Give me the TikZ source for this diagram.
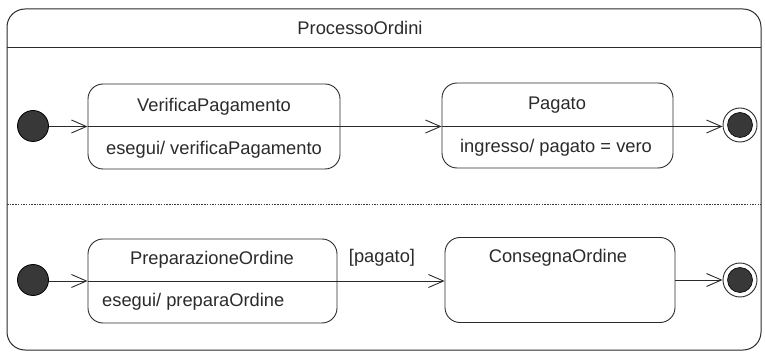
\documentclass[tikz,border=0pt]{standalone}
\usepackage{fontspec}
\setmainfont{Liberation Sans}
\usetikzlibrary{arrows.meta}
\definecolor{ink}{HTML}{2A2A2A}
\definecolor{dot}{HTML}{383838}
\begin{document}
\begin{tikzpicture}[x=1pt,y=-1pt,
  every node/.style={font=\fontsize{18.3}{22}\selectfont, text=ink},
  state/.style={draw=ink, line width=0.9pt, rounded corners=15pt, inner sep=0pt},
  txt/.style={inner sep=0pt},
  initial/.style={circle, draw=black, fill=dot, line width=0.8pt, minimum size=31pt, inner sep=0pt},
  finalout/.style={circle, draw=ink, fill=white, line width=0.9pt, minimum size=34pt, inner sep=0pt},
  finalin/.style={circle, draw=black, fill=dot, line width=0.6pt, minimum size=25pt, inner sep=0pt},
  sep/.style={draw=ink, line width=0.9pt},
  tr/.style={draw=ink, line width=0.9pt, -{Straight Barb[length=15pt,width=13pt,line width=0.9pt]}}
]
\useasboundingbox (0,0) rectangle (765,355);
% frame
\node[draw=ink, line width=1pt, rounded corners=18pt, minimum width=754pt, minimum height=341pt, inner sep=0pt] (frame) at (384,179.5) {};
\coordinate (tl) at (7,48);
\coordinate (tr) at (761,48);
\draw[ink, line width=1pt] (tl) -- (tr);
\node[txt] (title) at (360,28) {ProcessoOrdini};
\coordinate (dl) at (7,205);
\coordinate (dr) at (761,205);
\draw[dot, line width=1pt, dash pattern=on 1.5pt off 1.2pt] (dl) -- (dr);
% upper region
\node[initial] (i1) at (33,126) {};
\node[state, minimum width=252pt, minimum height=85pt] (vp) at (214,126.5) {};
\node[txt] (vpt) at (214,107) {VerificaPagamento};
\node[txt] (vpb) at (214,150) {esegui/ verificaPagamento};
\node[state, minimum width=231pt, minimum height=85pt] (pg) at (557.5,125.5) {};
\node[txt] (pgt) at (557,105) {Pagato};
\node[txt] (pgb) at (556,148) {ingresso/ pagato = vero};
\node[finalout] (f1) at (740,125) {};
\node[finalin] (f1i) at (f1) {};
\draw[tr] (i1.east |- vp.west) -- (vp.west);
\draw[sep] (vp.west) -- (vp.east);
\draw[tr] (vp.east) -- (pg.west |- vp.east);
\draw[sep] (pg.west |- vp.east) -- (pg.east |- vp.east);
\draw[tr] (pg.east |- vp.east) -- (f1.west |- vp.east);
% lower region
\node[initial] (i2) at (33,280) {};
\node[state, minimum width=249pt, minimum height=84pt] (po) at (212.5,281) {};
\node[txt] (pot) at (212,260) {PreparazioneOrdine};
\node[txt, anchor=west] (pob) at (102,302) {esegui/ preparaOrdine};
\node[txt] (pgd) at (382,258) {[pagato]};
\node[state, minimum width=230pt, minimum height=85pt] (co) at (560,280) {};
\node[txt] (cot) at (558,258) {ConsegnaOrdine};
\node[finalout] (f2) at (740,280) {};
\node[finalin] (f2i) at (f2) {};
\draw[tr] (i2.east |- po.west) -- (po.west);
\draw[sep] (po.west) -- (po.east);
\draw[tr] (po.east) -- (co.west |- po.east);
\draw[tr] (co.east |- f2.west) -- (f2.west);
\end{tikzpicture}
\end{document}
